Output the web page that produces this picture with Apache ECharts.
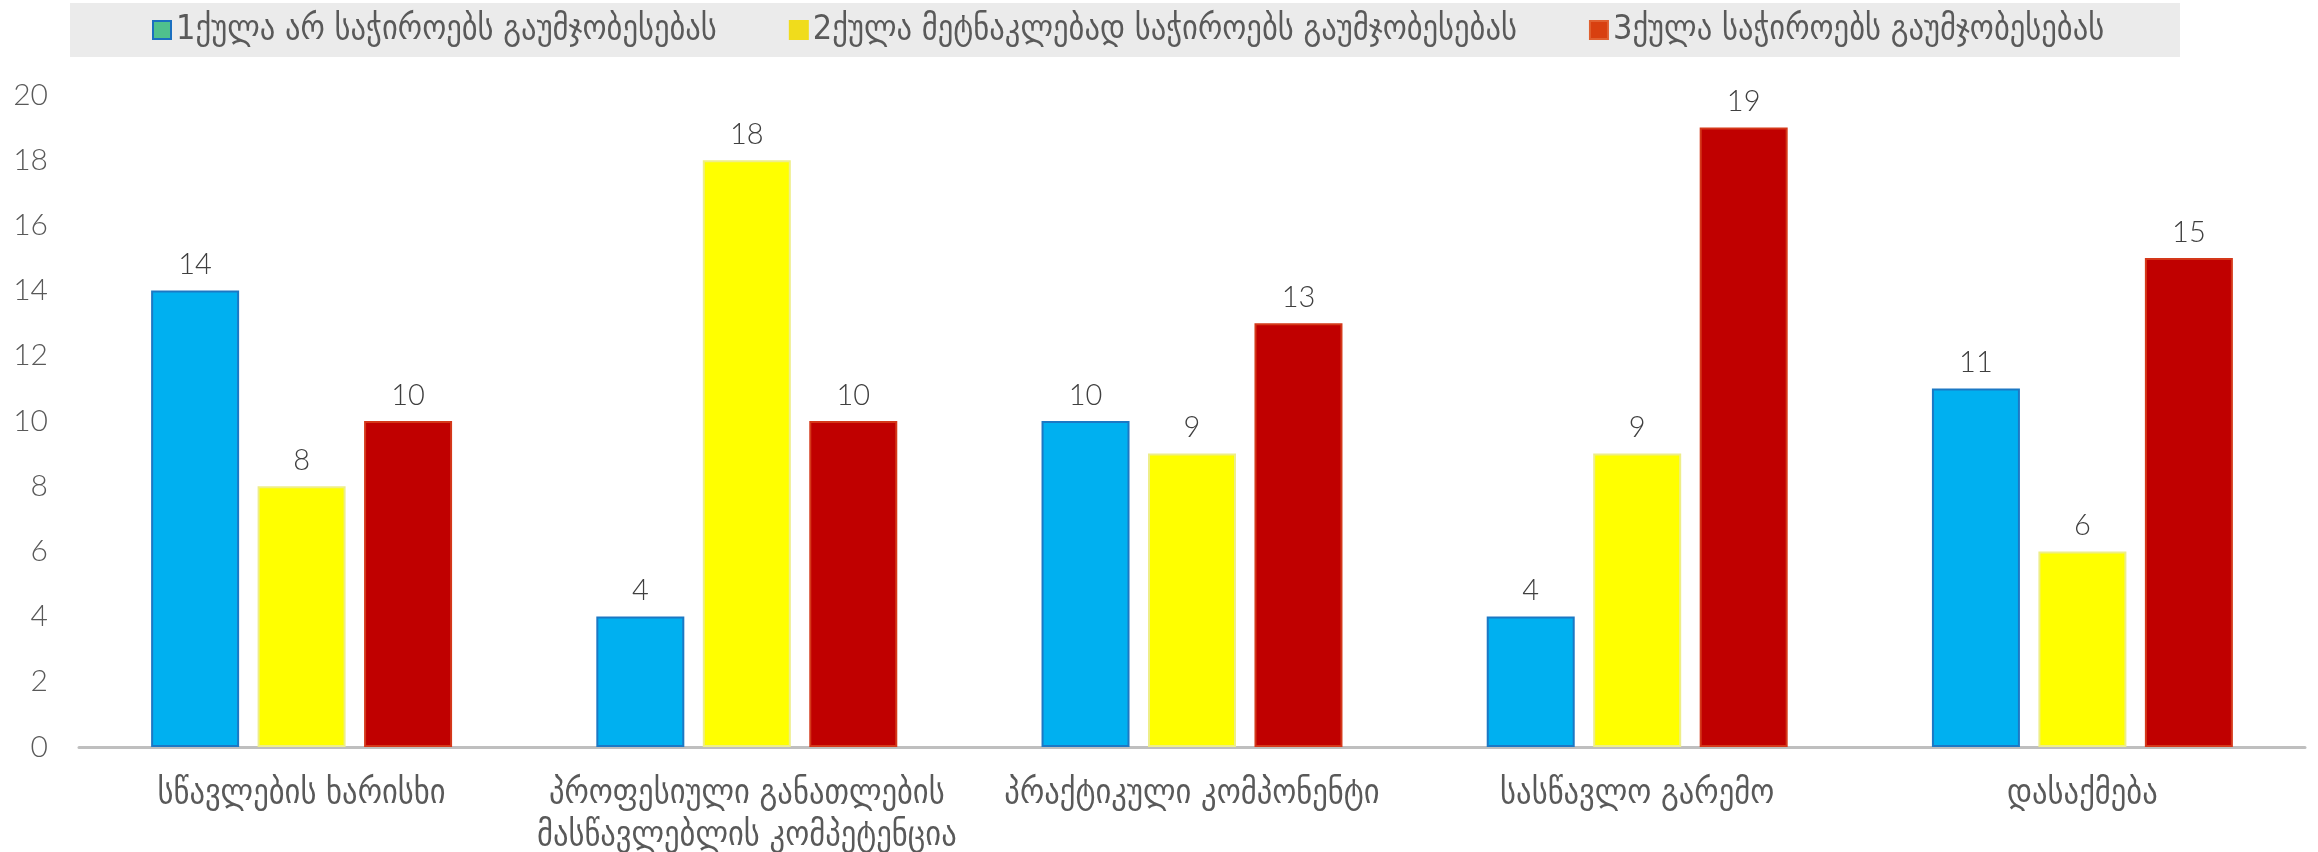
<!DOCTYPE html>
<html>
<head>
<meta charset="utf-8">
<script src="https://cdn.jsdelivr.net/npm/echarts@6/dist/echarts.min.js"></script>
<style>
html,body{margin:0;padding:0;background:#fff;}
#chart{width:2318px;height:852px;}
</style>
</head>
<body>
<div id="chart"></div>
<script>
const categories = [
  'სწავლების ხარისხი',
  'პროფესიული განათლების\nმასწავლებლის კომპეტენცია',
  'პრაქტიკული კომპონენტი',
  'სასწავლო გარემო',
  'დასაქმება'
];
const seriesNames = [
  '1ქულა არ საჭიროებს გაუმჯობესებას',
  '2ქულა მეტნაკლებად საჭიროებს გაუმჯობესებას',
  '3ქულა საჭიროებს გაუმჯობესებას'
];
const score1 = [14, 4, 10, 4, 11];
const score2 = [8, 18, 9, 9, 6];
const score3 = [10, 10, 13, 19, 15];
const yTicks = { min: 0, max: 20, interval: 2 };

const geo = "'DejaVu Sans Condensed', 'DejaVu Sans', sans-serif";
const num = "Lato, 'DejaVu Sans', sans-serif";

const fills = ['#00B0F0', '#FFFF00', '#C00000'];
const borders = ['#1C78C4', '#EEEE88', '#D4381A'];
const legendFills = ['#4FC08D', '#F0DC1C', '#D84010'];
const legendBorders = ['#1A6FC0', '#F0DC1C', '#E06030'];

const chart = echarts.init(document.getElementById('chart'), null, {renderer: 'canvas'});
const values = [score1, score2, score3];
const series = values.map((v, i) => ({
  name: seriesNames[i],
  type: 'bar',
  data: v,
  barWidth: 88,
  barGap: '21%',
  itemStyle: { color: fills[i], borderColor: borders[i], borderWidth: 2 },
  label: {
    show: true, position: 'top', distance: 11,
    fontFamily: num, fontSize: 29, fontWeight: 300, color: '#404040'
  }
}));

chart.setOption({
  animation: false,
  backgroundColor: '#ffffff',
  graphic: [{
    type: 'rect', left: 70, top: 3, z: -10,
    shape: { width: 2110, height: 54 },
    style: { fill: '#EBEBEB' }
  }],
  legend: {
    left: 152, top: 12, padding: 0,
    itemWidth: 18, itemHeight: 18, itemGap: 72,
    textStyle: { fontFamily: geo, fontSize: 34, lineHeight: 36, color: '#595959' },
    data: seriesNames.map((n, i) => ({
      name: n, icon: 'rect',
      itemStyle: { color: legendFills[i], borderColor: legendBorders[i], borderWidth: 2 }
    }))
  },
  grid: { left: 79, right: 13, top: 95, bottom: 105, containLabel: false, outerBoundsMode: 'none' },
  xAxis: {
    type: 'category', data: categories,
    axisLine: { lineStyle: { color: '#BFBFBF', width: 3 } },
    axisTick: { show: false },
    axisLabel: {
      fontFamily: geo, fontSize: 34, color: '#595959', margin: 26,
      lineHeight: 42, interval: 0
    }
  },
  yAxis: {
    type: 'value', min: yTicks.min, max: yTicks.max, interval: yTicks.interval,
    axisLine: { show: false }, axisTick: { show: false },
    splitLine: { show: false },
    axisLabel: { fontFamily: num, fontSize: 30, fontWeight: 300, color: '#595959', margin: 31 }
  },
  series: series
});
</script>
</body>
</html>
